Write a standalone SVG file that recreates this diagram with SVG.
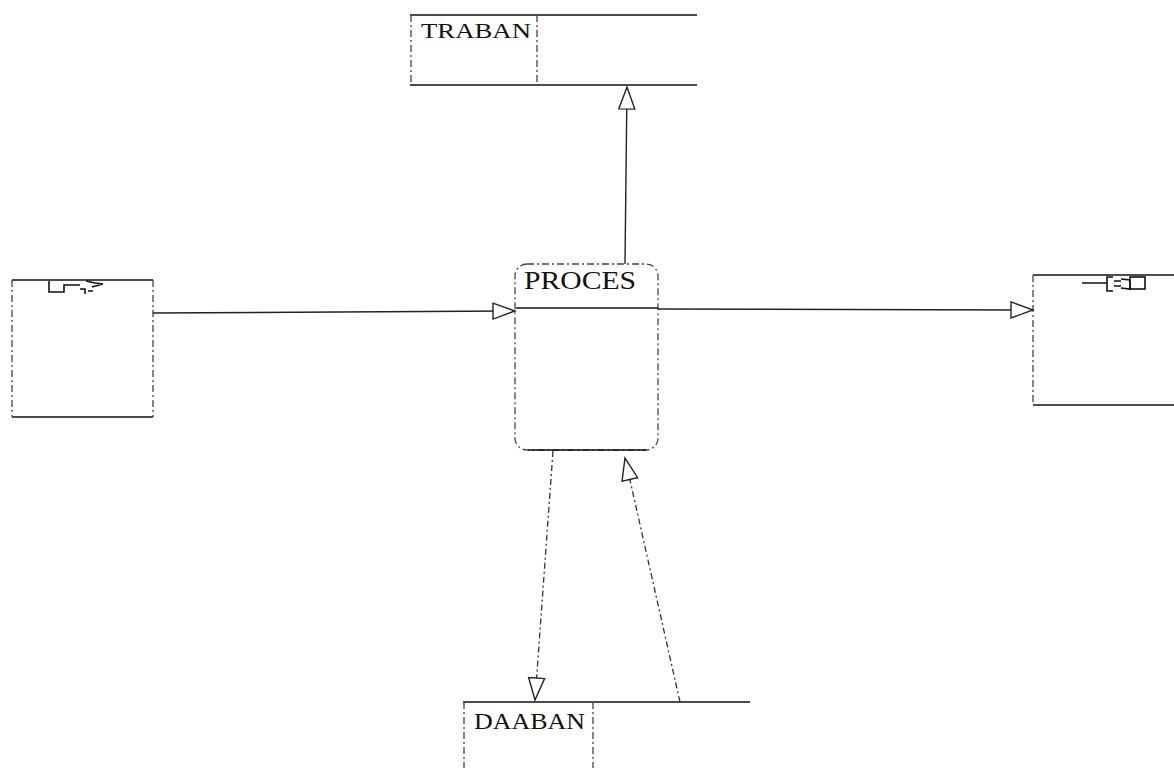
<svg xmlns="http://www.w3.org/2000/svg" width="1174" height="768" viewBox="0 0 1174 768">
<style>
.edge{stroke:#111;stroke-width:1.6;fill:none}
.side{stroke:#444;stroke-width:1.3;stroke-dasharray:7 3 2 3;fill:none}
.conn{stroke:#222;stroke-width:1.4;fill:none}
.dconn{stroke:#333;stroke-width:1.3;stroke-dasharray:6 3 2 3;fill:none}
.lbl{font-family:"Liberation Serif","DejaVu Serif",serif;fill:#111}
.icon{stroke:#111;stroke-width:1.6;fill:none}
</style>
<defs>
<marker id="tri" markerUnits="userSpaceOnUse" markerWidth="26" markerHeight="20" refX="23" refY="9" orient="auto" viewBox="0 0 26 20">
<path d="M1,1 L23,9 L1,17 Z" fill="#fff" stroke="#222" stroke-width="1.4"/>
</marker>
</defs>
<rect width="1174" height="768" fill="#fff"/>

<g id="traban">
<line class="edge" x1="410" y1="15" x2="697" y2="15"/>
<line class="edge" x1="410" y1="85" x2="697" y2="85"/>
<line class="side" x1="411" y1="15" x2="411" y2="85"/>
<line class="side" x1="537" y1="15" x2="537" y2="85"/>
<text class="lbl" x="421" y="38" font-size="22" textLength="110" lengthAdjust="spacingAndGlyphs">TRABAN</text>
</g>

<g id="proces">
<rect class="side" x="515" y="264" width="143" height="186" rx="12"/>
<line class="edge" x1="528" y1="450" x2="646" y2="450"/>
<line class="edge" x1="516" y1="308" x2="658" y2="308"/>
<text class="lbl" x="524" y="289" font-size="25" textLength="112" lengthAdjust="spacingAndGlyphs">PROCES</text>
</g>

<g id="source">
<line class="edge" x1="12" y1="280" x2="153" y2="280"/>
<line class="edge" x1="12" y1="417" x2="153" y2="417"/>
<line class="side" x1="12" y1="280" x2="12" y2="417"/>
<line class="side" x1="153" y1="280" x2="153" y2="417"/>
<path class="icon" d="M49 281 V292 H64 V285 H80 M80 289 H85 V294 M86 281 L95 283 L103 284 L92 287 M88 291 H93"/>
</g>

<g id="sink">
<line class="edge" x1="1033" y1="275" x2="1174" y2="275"/>
<line class="edge" x1="1033" y1="405" x2="1174" y2="405"/>
<line class="side" x1="1033" y1="275" x2="1033" y2="405"/>
<path class="icon" d="M1082 283 H1107 V277 H1113 M1107 283 V291 H1113 M1114 281 H1121 M1114 286 H1121 M1121 279 L1130 280 V289 L1121 288"/>
<rect class="icon" x="1130" y="277" width="15" height="12"/>
</g>

<g id="daaban">
<line class="edge" x1="463" y1="702" x2="750" y2="702"/>
<line class="side" x1="464" y1="702" x2="464" y2="768"/>
<line class="side" x1="593" y1="702" x2="593" y2="768"/>
<text class="lbl" x="474" y="729" font-size="24" textLength="111" lengthAdjust="spacingAndGlyphs">DAABAN</text>
</g>

<g id="connectors">
<line class="conn" x1="625" y1="264" x2="627" y2="87" marker-end="url(#tri)"/>
<line class="conn" x1="153" y1="313" x2="515" y2="311" marker-end="url(#tri)"/>
<line class="conn" x1="658" y1="309" x2="1033" y2="310" marker-end="url(#tri)"/>
<line class="dconn" x1="553" y1="451" x2="535" y2="700" marker-end="url(#tri)"/>
<line class="dconn" x1="680" y1="702" x2="625" y2="458" marker-end="url(#tri)"/>
</g>
</svg>
